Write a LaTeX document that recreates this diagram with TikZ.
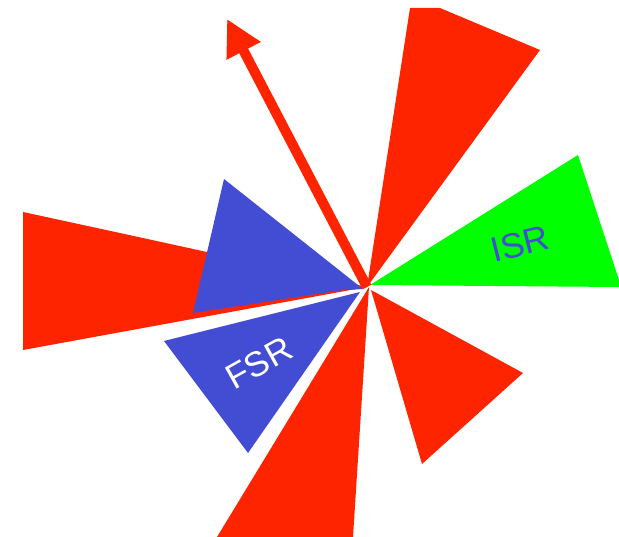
\documentclass[tikz,border=0pt]{standalone}
\usepackage{fontspec}
\setmainfont{Liberation Sans}
\definecolor{JetRed}  {RGB}{255,36,0}
\definecolor{RadBlue} {RGB}{67,77,212}
\definecolor{RadGreen}{RGB}{0,255,0}
\usetikzlibrary{arrows.meta}

\begin{document}
\begin{tikzpicture}[x=1pt,y=-1pt,
    cone/.style={fill=#1,draw=none},
    lbl/.style={font=\fontsize{35}{35}\selectfont,inner sep=0pt}]
  \useasboundingbox (0,0) rectangle (619,537);
  % Interaction point
  \coordinate (ip) at (367,287);
  % Jet cones (red)
  \fill[cone=JetRed] (ip) -- (410,8) -- (440,8) -- (540,50) -- cycle;
  \fill[cone=JetRed] (ip) -- (120,233) -- (23,212) -- (23,350) -- cycle;
  \fill[cone=JetRed] (369,287) -- (217,537) -- (353,537) -- cycle;
  \fill[cone=JetRed] (371,290) -- (523,373) -- (422,464) -- cycle;
  % Initial state radiation
  \fill[cone=RadGreen] (370,285) -- (578,155) -- (619,280) -- (619,287) -- cycle;
  \node[lbl,RadBlue,rotate=14] (isr) at (520,244) {ISR};
  % Final state radiation
  \fill[cone=RadBlue] (363,289) -- (224,179) -- (193,313) -- (340,290.5) -- cycle;
  \fill[cone=RadBlue] (360,292) -- (164,341) -- (248,453) -- cycle;
  \node[lbl,white,rotate=29] (fsr) at (259,363) {FSR};
  % Leading jet direction
  \coordinate (jet) at (227,19);
  \draw[JetRed,line width=10pt,-{Triangle[length=36pt,width=36pt]}] (ip) -- (jet);
\end{tikzpicture}
\end{document}
